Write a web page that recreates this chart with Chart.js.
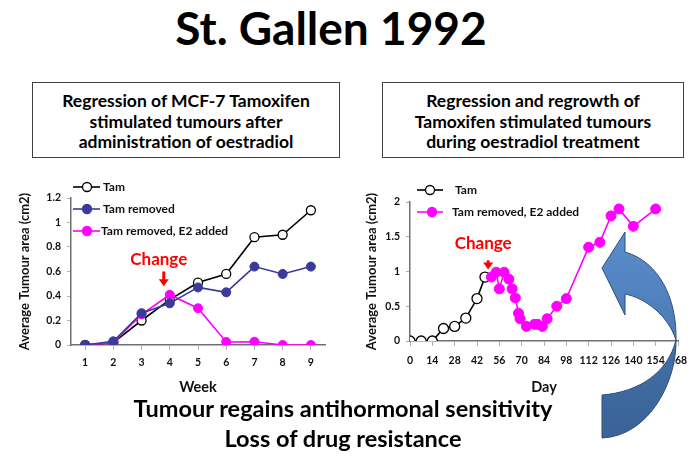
<!DOCTYPE html>
<html>
<head>
<meta charset="utf-8">
<script src="https://cdn.jsdelivr.net/npm/chart.js@4.4.1/dist/chart.umd.min.js"></script>
<style>
  body { margin: 0; width: 696px; height: 463px; background: #fff; position: relative; overflow: hidden; font-family: Lato, "Open Sans", sans-serif; color: #000; }
  .abs { position: absolute; }
  #title { left: 0; width: 662px; top: 5px; text-align: center; font-weight: 700; font-size: 46px; line-height: 1; }
  .box { box-sizing: border-box; border: 1.5px solid #404040; text-align: center; font-weight: 700; font-size: 17.5px; line-height: 20.5px; padding-top: 8px; top: 82px; height: 76px; }
  #boxL { left: 32px; width: 308px; }
  #boxR { left: 382px; width: 302px; }
  #bottom { left: 0; width: 686px; top: 393px; text-align: center; font-weight: 700; font-size: 23.5px; line-height: 30px; }
  #c1 { left: 0; top: 170px; }
  #c2 { left: 350px; top: 180px; }
  #arrow { left: 0; top: 0; pointer-events: none; }
</style>
</head>
<body>
<div id="title" class="abs">St. Gallen 1992</div>
<div id="boxL" class="abs box">Regression of MCF-7 Tamoxifen<br>stimulated tumours after<br>administration of oestradiol</div>
<div id="boxR" class="abs box">Regression and regrowth of<br>Tamoxifen stimulated tumours<br>during oestradiol treatment</div>
<canvas id="c1" class="abs" width="345" height="230"></canvas>
<canvas id="c2" class="abs" width="346" height="220"></canvas>
<div id="bottom" class="abs">Tumour regains antihormonal sensitivity<br>Loss of drug resistance</div>
<canvas id="arrow" class="abs" width="696" height="463"></canvas>
<script>
// gauche : semaines
const semaines = ['1', '2', '3', '4', '5', '6', '7', '8', '9'];
const tamSemaine = [0, 0.02, 0.2, 0.37, 0.51, 0.58, 0.88, 0.9, 1.1];
const tamRetireSemaine = [0, 0.03, 0.26, 0.34, 0.47, 0.43, 0.64, 0.58, 0.64];
const e2Semaine = [0, 0.02, 0.25, 0.41, 0.3, 0.025, 0.027, 0, 0];
const ticksYGauche = [0, 0.2, 0.4, 0.6, 0.8, 1, 1.2];

// droite : jours
const joursTam = [0, 7, 14, 21, 28, 35, 42, 47];
const valeursTam = [0, 0, 0, 0.18, 0.21, 0.33, 0.61, 0.92];
const joursE2 = [51, 54, 56, 59, 62, 64, 66, 68, 69, 73, 78, 80, 83, 86, 92, 98, 112, 119, 126, 131, 140, 154];
const valeursE2 = [0.92, 0.99, 0.75, 0.99, 0.89, 0.75, 0.62, 0.4, 0.32, 0.21, 0.24, 0.24, 0.21, 0.32, 0.5, 0.61, 1.35, 1.42, 1.8, 1.9, 1.65, 1.9];
const ticksJours = [0, 14, 28, 42, 56, 70, 84, 98, 112, 126, 140, 154, 168];
const ticksYDroite = [0, 0.5, 1, 1.5, 2];

const POLICE = 'Lato, "Open Sans", sans-serif';
const NOIR = '#000000';
const BLEU = '#3a3a9a';
const MAGENTA = '#ff00ff';

function serie(label, data, couleur, creux, ordre) {
    return {
        label: label,
        data: data,
        borderColor: couleur,
        backgroundColor: creux ? '#ffffff' : couleur,
        pointBackgroundColor: creux ? '#ffffff' : couleur,
        pointBorderColor: couleur,
        pointBorderWidth: creux ? 1.3 : 1,
        pointRadius: 4.5,
        borderWidth: 1.6,
        tension: 0,
        order: ordre
    };
}

// légende dessinée à la main (trait + marqueur)
const legendeMaison = {
    id: 'legendeMaison',
    afterDraw(chart, args, opts) {
        const ctx = chart.ctx;
        ctx.save();
        ctx.font = 'bold ' + opts.taille + 'px ' + POLICE;
        ctx.textBaseline = 'middle';
        opts.lignes.forEach((l, i) => {
            const ds = chart.data.datasets[l.index];
            ctx.strokeStyle = ds.borderColor;
            ctx.lineWidth = 1.6;
            ctx.beginPath();
            ctx.moveTo(opts.x0, l.y);
            ctx.lineTo(opts.x1, l.y);
            ctx.stroke();
            ctx.beginPath();
            ctx.arc(l.xm, l.y, 4.5, 0, Math.PI * 2);
            ctx.fillStyle = ds.pointBackgroundColor;
            ctx.fill();
            ctx.lineWidth = 1.3;
            ctx.stroke();
            ctx.fillStyle = '#111';
            ctx.fillText(ds.label, l.xt, l.y);
        });
        ctx.restore();
    }
};

// "Change" + flèche rouge
const changement = {
    id: 'changement',
    afterDraw(chart, args, opts) {
        const ctx = chart.ctx;
        const x = chart.scales.x.getPixelForValue(opts.xVal) + opts.dx;
        const yTexte = chart.scales.y.getPixelForValue(opts.yTexte);
        const yHaut = chart.scales.y.getPixelForValue(opts.yHaut);
        const yBas = chart.scales.y.getPixelForValue(opts.yBas);
        ctx.save();
        ctx.fillStyle = '#ff0000';
        ctx.font = 'bold 17px ' + POLICE;
        ctx.textAlign = 'center';
        ctx.textBaseline = 'middle';
        ctx.fillText('Change', x - 5, yTexte);
        ctx.fillRect(x - 1.5, yHaut, 3, yBas - yHaut - 6);
        ctx.beginPath();
        ctx.moveTo(x - 5, yBas - 7);
        ctx.lineTo(x + 5, yBas - 7);
        ctx.lineTo(x, yBas);
        ctx.closePath();
        ctx.fill();
        ctx.restore();
    }
};

function axeX(titre, hauteur, pad) {
    return {
        title: { display: true, text: titre, color: '#111', font: { family: POLICE, size: 14.5, weight: 'bold' } },
        grid: { drawOnChartArea: false, drawTicks: true, tickLength: 5, color: '#b0b0b0' },
        border: { color: '#707070', width: 1.5 },
        ticks: { color: '#111', padding: pad, font: { family: POLICE, size: 10.5, weight: 'bold' }, maxRotation: 0, autoSkip: false },
        afterFit(s) { s.height = hauteur; }
    };
}

function axeY(largeur, liste, max) {
    return {
        min: 0,
        max: max,
        title: { display: true, text: 'Average Tumour area (cm2)', color: '#111', font: { family: POLICE, size: 13, weight: 'bold' } },
        grid: { drawOnChartArea: false, drawTicks: true, tickLength: 4, color: '#b0b0b0' },
        border: { color: '#707070', width: 1.5 },
        ticks: { color: '#111', padding: 6, font: { family: POLICE, size: 10.5, weight: 'bold' }, callback: v => String(v) },
        afterBuildTicks(s) { s.ticks = liste.map(v => ({ value: v })); },
        afterFit(s) { s.width = largeur; }
    };
}

Chart.defaults.font.family = POLICE;

new Chart(document.getElementById('c1').getContext('2d'), {
    type: 'line',
    data: {
        labels: semaines,
        datasets: [
            serie('Tam', tamSemaine, NOIR, true, 3),
            serie('Tam removed', tamRetireSemaine, BLEU, false, 1),
            serie('Tam removed, E2 added', e2Semaine, MAGENTA, false, 2)
        ]
    },
    options: {
        responsive: false,
        animation: false,
        devicePixelRatio: 1,
        layout: { padding: { left: 13, top: 28, right: 20, bottom: 0 } },
        plugins: {
            legend: { display: false },
            tooltip: { enabled: false },
            legendeMaison: {
                taille: 12, x0: 73, x1: 100,
                lignes: [
                    { index: 0, y: 17, xm: 87, xt: 103 },
                    { index: 1, y: 39, xm: 87, xt: 103 },
                    { index: 2, y: 61, xm: 87, xt: 101 }
                ]
            },
            changement: { xVal: 3, dx: -6, yTexte: 0.7, yHaut: 0.6, yBas: 0.48 }
        },
        scales: {
            x: Object.assign({ type: 'category', offset: true }, axeX('Week', 55, 6)),
            y: axeY(58, ticksYGauche, 1.2)
        }
    },
    plugins: [legendeMaison, changement]
});

new Chart(document.getElementById('c2').getContext('2d'), {
    type: 'line',
    data: {
        datasets: [
            Object.assign(serie('Tam', joursTam.map((j, i) => ({ x: j, y: valeursTam[i] })), NOIR, true, 2), { pointRadius: 5 }),
            Object.assign(serie('Tam removed, E2 added', joursE2.map((j, i) => ({ x: j, y: valeursE2[i] })), MAGENTA, false, 1), { pointRadius: 5 })
        ]
    },
    options: {
        responsive: false,
        animation: false,
        devicePixelRatio: 1,
        layout: { padding: { left: 10, top: 22, right: 18, bottom: 0 } },
        plugins: {
            legend: { display: false },
            tooltip: { enabled: false },
            legendeMaison: {
                taille: 12, x0: 67, x1: 93,
                lignes: [
                    { index: 0, y: 10, xm: 80, xt: 105 },
                    { index: 1, y: 32, xm: 82, xt: 102 }
                ]
            },
            changement: { xVal: 49, dx: 0, yTexte: 1.4, yHaut: 1.16, yBas: 1.03 }
        },
        scales: {
            x: Object.assign({
                type: 'linear', min: 0, max: 168,
                afterBuildTicks(s) { s.ticks = ticksJours.map(v => ({ value: v })); }
            }, axeX('Day', 59, 8)),
            y: axeY(50, ticksYDroite, 2)
        }
    },
    plugins: [legendeMaison, changement]
});

// flèche bleue courbe (décor)
(function () {
    const ctx = document.getElementById('arrow').getContext('2d');
    ctx.lineJoin = 'round';
    ctx.strokeStyle = '#2d4f7a';
    ctx.lineWidth = 1;

    let g = ctx.createLinearGradient(0, 232, 0, 340);
    g.addColorStop(0, '#5b8dcb');
    g.addColorStop(1, '#4a7bb7');
    ctx.beginPath();
    ctx.moveTo(676, 340);
    ctx.bezierCurveTo(677, 300, 660, 262, 625, 252);
    ctx.lineTo(625, 232);
    ctx.lineTo(602, 268);
    ctx.lineTo(625, 315);
    ctx.lineTo(625, 294);
    ctx.bezierCurveTo(645, 298, 668, 315, 676, 340);
    ctx.closePath();
    ctx.fillStyle = g;
    ctx.fill();
    ctx.stroke();

    g = ctx.createLinearGradient(0, 340, 0, 438);
    g.addColorStop(0, '#4270a8');
    g.addColorStop(1, '#3a6397');
    ctx.beginPath();
    ctx.moveTo(676, 340);
    ctx.bezierCurveTo(677, 380, 650, 436, 602, 438);
    ctx.lineTo(602, 395);
    ctx.bezierCurveTo(640, 392, 668, 372, 676, 340);
    ctx.closePath();
    ctx.fillStyle = g;
    ctx.fill();
    ctx.stroke();
})();
</script>
</body>
</html>
